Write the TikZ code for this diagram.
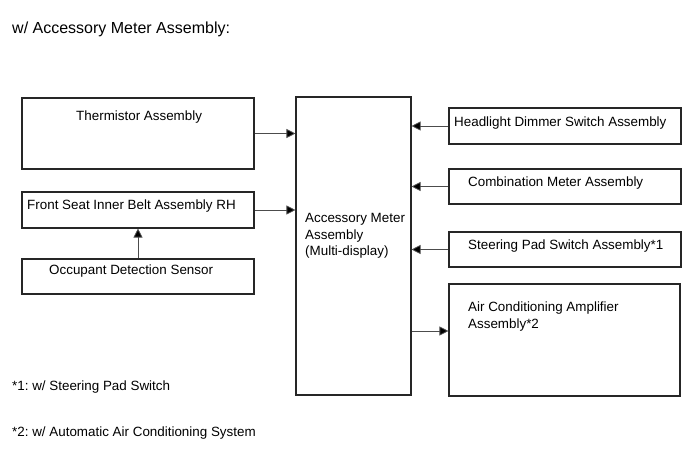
\documentclass[tikz,border=0pt]{standalone}
\usepackage{fontspec}
\setmainfont{Liberation Sans}
\usetikzlibrary{arrows.meta}
\begin{document}
\frenchspacing
\begin{tikzpicture}[x=1pt,y=-1pt,
  box/.style={draw=black!85,line width=1.1pt,inner sep=0pt,rectangle},
  txt/.style={anchor=base west,inner sep=0pt,font=\fontsize{13.4}{16.6}\selectfont},
  conn/.style={draw=black!70,line width=0.8pt,-{Triangle[length=9pt,width=9pt,fill=black]}}]
\useasboundingbox (0,0) rectangle (691,465);
% title
\node[txt,font=\fontsize{16}{19}\selectfont] (title) at (12,33.5) {w/ Accessory Meter Assembly:};
% left boxes
\node[box,minimum width=232pt,minimum height=71pt] (therm) at (138,133.5) {};
\node[box,minimum width=232pt,minimum height=36pt] (seat) at (138,210) {};
\node[box,minimum width=232pt,minimum height=35pt] (occ) at (138,276.5) {};
% center
\node[box,minimum width=115pt,minimum height=298pt] (meter) at (353.5,246) {};
% right boxes
\node[box,minimum width=232pt,minimum height=36pt] (head) at (565,126) {};
\node[box,minimum width=232pt,minimum height=35pt] (comb) at (565,186.5) {};
\node[box,minimum width=232pt,minimum height=35pt] (steer) at (565,249.5) {};
\node[box,minimum width=231pt,minimum height=112pt] (air) at (564.5,340) {};
% texts
\node[txt] (thermt) at (76,121) {Thermistor Assembly};
\node[txt] (seatt) at (27,210) {Front Seat Inner Belt Assembly RH};
\node[txt] (occt) at (49,274.7) {Occupant Detection Sensor};
\node[txt] (metert1) at (305,222.7) {Accessory Meter};
\node[txt] (metert2) at (305,239.3) {Assembly};
\node[txt] (metert3) at (305,256) {(Multi-display)};
\node[txt] (headt) at (454,126.7) {Headlight Dimmer Switch Assembly};
\node[txt] (combt) at (468,186.7) {Combination Meter Assembly};
\node[txt] (steert) at (468,249.3) {Steering Pad Switch Assembly*1};
\node[txt] (airt1) at (468,311.7) {Air Conditioning Amplifier};
\node[txt] (airt2) at (468,328.3) {Assembly*2};
\node[txt] (fn1) at (12,390.7) {*1: w/ Steering Pad Switch};
\node[txt] (fn2) at (12,436) {*2: w/ Automatic Air Conditioning System};
% connectors
\coordinate (airy) at (0,331);
\draw[conn] (therm.east) -- (therm.east -| meter.west);
\draw[conn] (seat.east) -- (seat.east -| meter.west);
\draw[conn] (occ.north) -- (seat.south);
\draw[conn] (head.west) -- (head.west -| meter.east);
\draw[conn] (comb.west) -- (comb.west -| meter.east);
\draw[conn] (steer.west) -- (steer.west -| meter.east);
\draw[conn] (meter.east |- airy) -- (air.west |- airy);
\end{tikzpicture}
\end{document}
